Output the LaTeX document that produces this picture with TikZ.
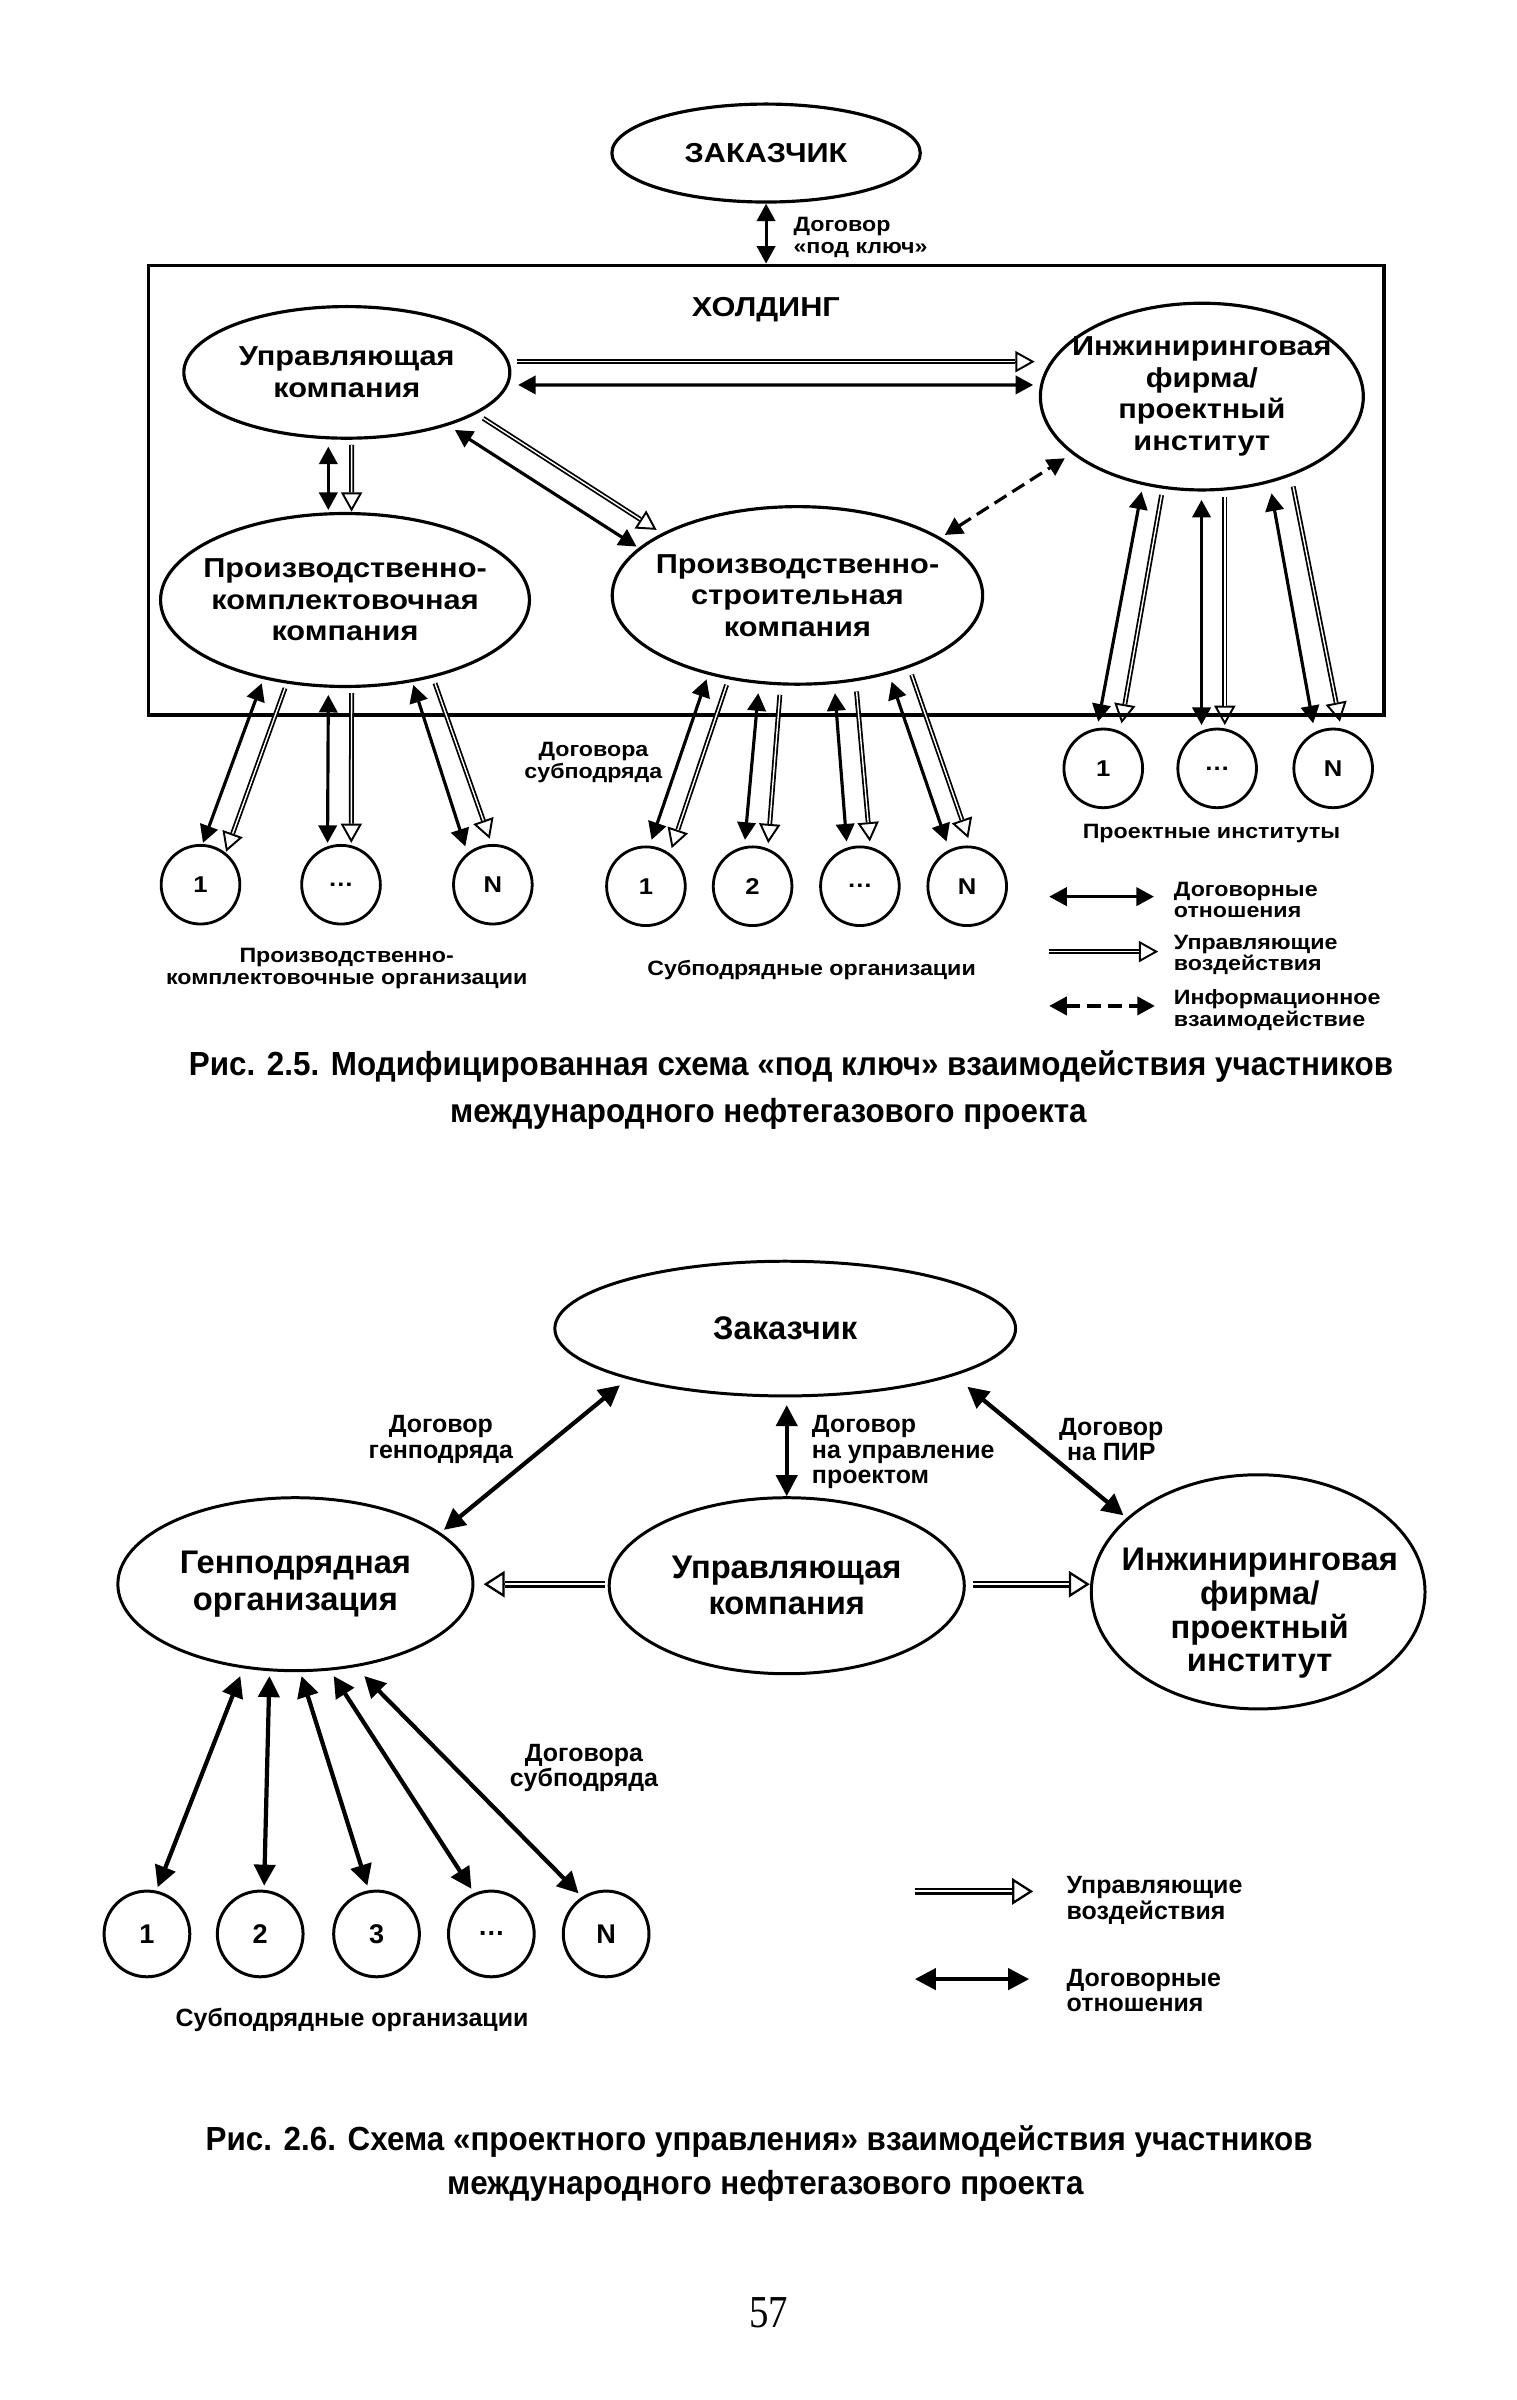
\documentclass[tikz,border=0pt]{standalone}
\usepackage{fontspec}
\setmainfont{Liberation Sans}
\newfontfamily\widesans{Liberation Sans}[FakeStretch=1.12]
\newfontfamily\capsans{Liberation Sans}[FakeStretch=0.94]
\newfontfamily\pagefont{Liberation Serif}[FakeStretch=0.85]
\usetikzlibrary{arrows.meta,shapes.geometric,calc}

\newcommand{\unitpx}{0.015308cm}

\tikzset{
  party5/.style={draw, ellipse, line width=0.9pt, inner sep=-4mm, align=center,
    font=\widesans\bfseries\fontsize{7.8}{9}\selectfont},
  party6/.style={draw, ellipse, line width=0.85pt, inner sep=-4mm, align=center,
    font=\bfseries\fontsize{9.3}{10.3}\selectfont},
  org5/.style={draw, circle, line width=0.8pt, minimum size=51.4*\unitpx, inner sep=0pt,
    font=\widesans\bfseries\fontsize{6.5}{7}\selectfont},
  org6/.style={draw, circle, line width=0.85pt, minimum size=56*\unitpx, inner sep=0pt,
    font=\bfseries\fontsize{7.7}{8}\selectfont},
  note5/.style={inner sep=0pt, align=center, font=\widesans\bfseries\fontsize{5.9}{6.2}\selectfont},
  note6/.style={inner sep=0pt, align=center, font=\bfseries\fontsize{7.1}{7.3}\selectfont},
  contract5/.style={line width=0.9pt, >={Triangle[length=5pt,width=5.2pt]}, <->},
  contract6/.style={line width=1.2pt, >={Triangle[length=6pt,width=6pt]}, <->},
  info5/.style={contract5, dash pattern=on 4pt off 2pt},
  ctrl5/.style={line width=0.55pt, -{Triangle[open,length=5.5pt,width=6pt]},
    postaction={draw, -, double=white, line width=0.5pt, double distance=0.4pt, shorten >=5.5pt}},
  ctrl6/.style={line width=0.65pt, -{Triangle[open,length=6pt,width=7.5pt]},
    postaction={draw, -, double=white, line width=0.7pt, double distance=0.6pt, shorten >=6pt}},
  caption/.style={inner sep=0pt, font=\capsans\bfseries\fontsize{9.5}{11}\selectfont}
}

\begin{document}
\begin{tikzpicture}[x=\unitpx, y=-\unitpx]

  \fill[white] (0,0) rectangle (991,1568);
  \useasboundingbox (0,0) rectangle (991,1568);

  % Рис. 2.5
  \node[party5, minimum width=201.5*\unitpx, minimum height=64*\unitpx] (zak5) at (500.5,100) {ЗАКАЗЧИК};
  \node[draw, line width=1.1pt, minimum width=807*\unitpx, minimum height=293.5*\unitpx, inner sep=0pt] (hold) at (500.5,320.25) {};
  \node[font=\widesans\bfseries\fontsize{7.8}{9}\selectfont, inner sep=0pt] (holdlbl) at (500.4,202.5) {ХОЛДИНГ};

  \node[party5, minimum width=213*\unitpx, minimum height=86*\unitpx] (upr5) at (226.6,243.3) {Управляющая\\компания};
  \node[party5, minimum width=211*\unitpx, minimum height=122*\unitpx] (inzh5) at (785.2,259.1) {Инжиниринговая\\фирма/\\проектный\\институт};
  \node[party5, minimum width=241*\unitpx, minimum height=113*\unitpx] (pkk) at (225.4,392) {Производственно-\\комплектовочная\\компания};
  \node[party5, minimum width=242*\unitpx, minimum height=116*\unitpx] (psk) at (521,389) {Производственно-\\строительная\\компания};

  \foreach \n/\x/\t in {k1/131/1, k2/222.8/{\dots}, kN/322/N} \node[org5] (\n) at (\x,578) {\t};
  \foreach \n/\x/\t in {s1/422/1, s2/491.7/2, s3/561.8/{\dots}, sN/631.9/N} \node[org5] (\n) at (\x,579) {\t};
  \foreach \n/\x/\t in {i1/720.8/1, i2/795.2/{\dots}, iN/871/N} \node[org5] (\n) at (\x,502) {\t};

  \draw[contract5] (zak5.south) -- (hold.north);
  \draw[ctrl5] ($(upr5)+(110.9,-7)$) -- ($(inzh5)+(-109.2,-22.8)$);
  \draw[contract5] ($(upr5)+(111.9,8.2)$) -- ($(inzh5)+(-110.2,-7.6)$);
  \draw[contract5] ($(upr5)+(-12.1,48.5)$) -- ($(pkk)+(-10.9,-58.8)$);
  \draw[ctrl5] ($(upr5)+(3.1,47.4)$) -- ($(pkk)+(4.3,-57.7)$);
  \draw[contract5] ($(upr5)+(70.6,37.6)$) -- ($(psk)+(-105.1,-31.9)$);
  \draw[ctrl5] ($(upr5)+(89.1,30)$) -- ($(psk)+(-92,-42.8)$);
  \draw[info5] ($(psk)+(96.3,-39.5)$) -- ($(inzh5)+(-89.5,40.3)$);

  % инжиниринговая фирма -- проектные институты
  \foreach \n/\ux/\uy/\lx/\ly/\hx/\hy/\gx/\gy in {
      i1/-39.4/62.1/-3.3/-30.5/-26.3/64.3/11.9/-29.4,
      i2/-0.2/67.5/-10.2/-28.3/15/65.4/5/-28.3,
      iN/45.5/63.2/-13.1/-29.4/59.7/58.8/4.4/-30.5}{
    \draw[contract5] ($(inzh5)+(\ux,\uy)$) -- ($(\n)+(\lx,\ly)$);
    \draw[ctrl5] ($(inzh5)+(\hx,\hy)$) -- ($(\n)+(\gx,\gy)$);
  }
  % комплектовочная компания -- организации
  \foreach \n/\ux/\uy/\lx/\ly/\hx/\hy/\gx/\gy in {
      k1/-54.4/54.4/1.6/-27.3/-39.2/57.6/16.7/-21.5,
      k2/-10.9/62/-8.8/-27.3/4.3/60.9/6.7/-27.3,
      kN/44.6/55.5/-18/-25/58.8/54.4/-2/-30}{
    \draw[contract5] ($(pkk)+(\ux,\uy)$) -- ($(\n)+(\lx,\ly)$);
    \draw[ctrl5] ($(pkk)+(\hx,\hy)$) -- ($(\n)+(\gx,\gy)$);
  }
  % строительная компания -- субподрядчики
  \foreach \n/\ux/\uy/\lx/\ly/\hx/\hy/\gx/\gy in {
      s1/-59.4/54.8/3.7/-30.3/-46.3/58.5/16.8/-24.8,
      s2/-25.6/63.9/-5/-30.3/-11.5/65/10.2/-28.1,
      s3/24.5/63.9/-8.7/-29.2/38.6/62.8/6.5/-29.2,
      sN/61.5/56.3/-13.5/-29.2/74.6/51.9/0.7/-31.4}{
    \draw[contract5] ($(psk)+(\ux,\uy)$) -- ($(\n)+(\lx,\ly)$);
    \draw[ctrl5] ($(psk)+(\hx,\hy)$) -- ($(\n)+(\gx,\gy)$);
  }

  \node[note5, align=left, anchor=west] (keylbl) at (518,155) {Договор\\«под ключ»};
  \node[note5] (sub5lbl) at (387.7,498) {Договора\\субподряда};
  \node[note5] (pkkorg) at (226.5,633) {Производственно-\\комплектовочные организации};
  \node[note5] (psksub) at (530.2,633.7) {Субподрядные организации};
  \node[note5] (inst) at (791.5,544.4) {Проектные институты};

  % легенда
  \coordinate (lg1a) at (685.5,585.8); \coordinate (lg1b) at (753.9,585.8);
  \coordinate (lg2a) at (685.5,621.7); \coordinate (lg2b) at (756.7,621.7);
  \coordinate (lg3a) at (685.5,657.2); \coordinate (lg3b) at (754.5,657.2);
  \draw[contract5] (lg1a) -- (lg1b);
  \draw[ctrl5] (lg2a) -- (lg2b);
  \draw[info5] (lg3a) -- (lg3b);
  \node[note5, align=left, anchor=west] (lg1t) at (766.5,588) {Договорные\\отношения};
  \node[note5, align=left, anchor=west] (lg2t) at (766.5,623.9) {Управляющие\\воздействия};
  \node[note5, align=left, anchor=west] (lg3t) at (766.5,659.8) {Информационное\\взаимодействие};

  \node[caption] (cap5a) at (516.8,697) {Рис. 2.5. Модифицированная схема «под ключ» взаимодействия участников};
  \node[caption] (cap5b) at (502,728) {международного нефтегазового проекта};

  % Рис. 2.6
  \node[party6, minimum width=301*\unitpx, minimum height=88*\unitpx] (zak6) at (513,868) {Заказчик};
  \node[party6, minimum width=232*\unitpx, minimum height=113*\unitpx] (gen) at (193,1035) {Генподрядная\\организация};
  \node[party6, minimum width=232*\unitpx, minimum height=115*\unitpx] (upr6) at (514,1036) {Управляющая\\компания};
  \node[party6, minimum width=218*\unitpx, minimum height=153*\unitpx] (inzh6) at (822,1040) {};
  \node[inner sep=0pt, align=center, font=\bfseries\fontsize{9.3}{9.6}\selectfont] (inzh6txt) at (823,1054) {Инжиниринговая\\фирма/\\проектный\\институт};

  \foreach \n/\x/\t in {o1/96/1, o2/170/2, o3/246/3, o4/321/{\dots}, oN/396/N} \node[org6] (\n) at (\x,1263.5) {\t};

  \draw[contract6] ($(zak6)+(-108,37)$) -- ($(gen)+(97,-35.5)$);
  \draw[contract6] ($(zak6.south)+(1,5)$) -- (upr6.north);
  \draw[contract6] ($(zak6)+(119,38)$) -- ($(inzh6)+(-88,-50)$);
  \draw[ctrl6] ($(upr6.west)+(-2,-1)$) -- ($(gen.east)+(6,0)$);
  \draw[ctrl6] ($(upr6.east)+(5,-1)$) -- ($(inzh6.west)+(0,-5)$);
  \foreach \n/\ux/\lx/\ly in {o1/-36/7/-30.5, o2/-17/2.6/-31.5, o3/4/-6/-31.5, o4/25/-13/-29.5, oN/45/-18/-26.5}
    \draw[contract6] ($(gen)+(\ux,60)$) -- ($(\n)+(\lx,\ly)$);

  \node[note6] (genlbl) at (288,940.5) {Договор\\генподряда};
  \node[note6, align=left, anchor=west] (uprlbl) at (530,948.7) {Договор\\на управление\\проектом};
  \node[note6] (pirlbl) at (726,940.5) {Договор\\на ПИР};
  \node[note6] (sub6lbl) at (381.5,1155) {Договора\\субподряда};
  \node[note6] (org6lbl) at (230,1320) {Субподрядные организации};

  % легенда
  \coordinate (lh1a) at (597.7,1235.7); \coordinate (lh1b) at (675,1235.7);
  \coordinate (lh2a) at (597.7,1293); \coordinate (lh2b) at (672.4,1293);
  \draw[ctrl6] (lh1a) -- (lh1b);
  \draw[contract6] (lh2a) -- (lh2b);
  \node[note6, align=left, anchor=west] (lh1t) at (696.4,1241.7) {Управляющие\\воздействия};
  \node[note6, align=left, anchor=west] (lh2t) at (696.4,1300.5) {Договорные\\отношения};

  \node[caption] (cap6a) at (496,1399) {Рис. 2.6. Схема «проектного управления» взаимодействия участников};
  \node[caption] (cap6b) at (500,1428) {международного нефтегазового проекта};
  \node[font=\pagefont\fontsize{13}{15}\selectfont, inner sep=0pt] (pagenum) at (502.4,1511) {57};

\end{tikzpicture}
\end{document}
